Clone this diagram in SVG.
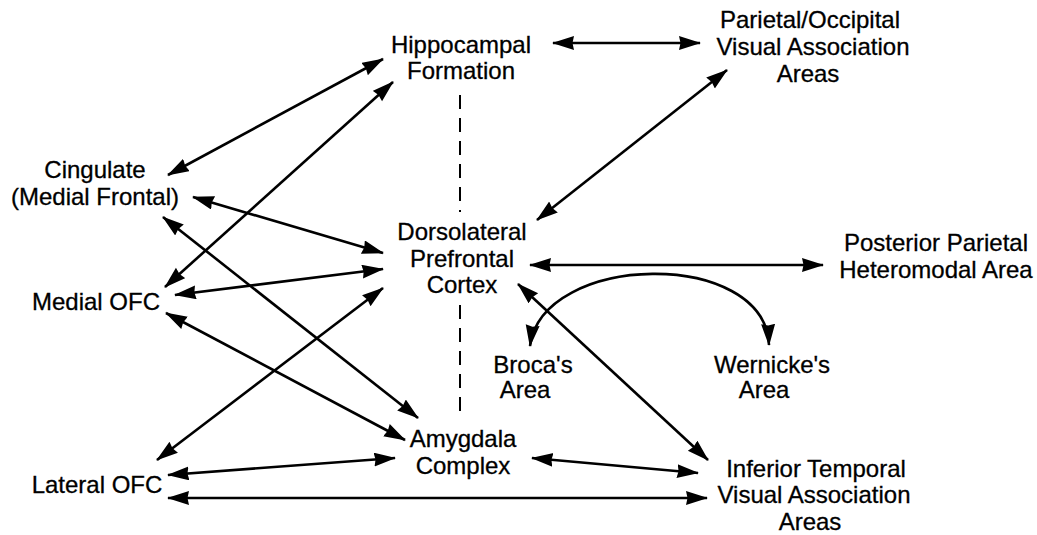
<svg xmlns="http://www.w3.org/2000/svg" width="1037" height="535" viewBox="0 0 1037 535">
<style>
text{font-family:"Liberation Sans",Arial,sans-serif;font-size:24px;fill:#000;stroke:#000;stroke-width:0.3;text-anchor:middle}
.c{fill:none;stroke:#000;stroke-width:2.6;marker-start:url(#ah);marker-end:url(#ah)}
.d{fill:none;stroke:#000;stroke-width:2;stroke-dasharray:14 9}
</style>
<defs>
<marker id="ah" markerUnits="userSpaceOnUse" markerWidth="23" markerHeight="15" refX="21" refY="7" orient="auto-start-reverse" viewBox="0 0 23 15">
<path d="M0,0 L22,7 L0,14 L1.5,7 z" fill="#000"/>
</marker>
</defs>
<rect width="1037" height="535" fill="#fff"/>
<g id="connectors">
<line class="c" x1="553" y1="43" x2="700" y2="43"/>
<line class="c" x1="168" y1="175" x2="383" y2="59"/>
<line class="c" x1="165" y1="287" x2="393" y2="82"/>
<line class="c" x1="193" y1="197" x2="383" y2="253"/>
<line class="c" x1="163" y1="217" x2="418" y2="418"/>
<line class="c" x1="175" y1="295" x2="383" y2="269"/>
<line class="c" x1="166" y1="313" x2="405" y2="440"/>
<line class="c" x1="157" y1="460" x2="383" y2="288"/>
<line class="c" x1="168" y1="475" x2="395" y2="458"/>
<line class="c" x1="168" y1="498" x2="707" y2="498"/>
<line class="c" x1="532" y1="458" x2="698" y2="473"/>
<line class="c" x1="518" y1="284" x2="708" y2="460"/>
<line class="c" x1="537" y1="220" x2="727" y2="70"/>
<line class="c" x1="530" y1="265" x2="823" y2="265"/>
<path class="c" d="M530 346 C542 252, 765 248, 769 345"/>
<line class="d" x1="460" y1="95" x2="460" y2="212"/>
<line class="d" x1="460" y1="305" x2="460" y2="420"/>
</g>
<g id="hippocampal"><text x="461" y="53">Hippocampal</text><text x="461" y="79">Formation</text></g>
<g id="parietal-occipital"><text x="810" y="28">Parietal/Occipital</text><text x="813" y="55">Visual Association</text><text x="808" y="82">Areas</text></g>
<g id="cingulate"><text x="95" y="178">Cingulate</text><text x="95" y="205">(Medial Frontal)</text></g>
<g id="dorsolateral"><text x="462" y="240">Dorsolateral</text><text x="462" y="267">Prefrontal</text><text x="462" y="293">Cortex</text></g>
<g id="posterior-parietal"><text x="936" y="251">Posterior Parietal</text><text x="936" y="278">Heteromodal Area</text></g>
<g id="medial-ofc"><text x="96" y="310">Medial OFC</text></g>
<g id="broca"><text x="533" y="373">Broca's</text><text x="525" y="398">Area</text></g>
<g id="wernicke"><text x="772" y="373">Wernicke's</text><text x="764" y="398">Area</text></g>
<g id="amygdala"><text x="463" y="447">Amygdala</text><text x="463" y="474">Complex</text></g>
<g id="lateral-ofc"><text x="97" y="493">Lateral OFC</text></g>
<g id="inferior-temporal"><text x="816" y="477">Inferior Temporal</text><text x="814" y="503">Visual Association</text><text x="810" y="530">Areas</text></g>
</svg>
